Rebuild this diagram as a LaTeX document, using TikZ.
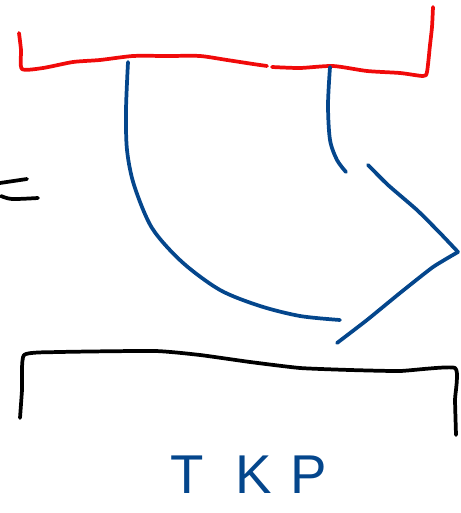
\documentclass[tikz,border=0pt]{standalone}
\usepackage{fontspec}
\setmainfont{Liberation Sans}
\definecolor{penblue}{RGB}{4,70,140}
\definecolor{penred}{RGB}{240,10,10}
\begin{document}
\begin{tikzpicture}[x=0.75pt,y=-0.75pt,
  pen/.style={line width=2.8pt,line cap=round,line join=round},
  redpen/.style={pen,draw=penred},
  bluepen/.style={pen,draw=penblue},
  blackpen/.style={pen,draw=black}]
\useasboundingbox (0,0) rectangle (460,513);
% red tray
\draw[redpen] plot[smooth,tension=0.4] coordinates {(19,33) (21,50) (22,69) (43,68) (73,62) (100,60) (133,56) (167,56) (200,56) (227,60) (253,64) (267,66)};
\draw[redpen] plot[smooth,tension=0.4] coordinates {(272,67) (300,68) (333,66) (367,71) (400,73) (423,76) (427,72) (430,45) (432,27) (433,7)};
% blue curves
\draw[bluepen] plot[smooth,tension=0.5] coordinates {(128,62) (126,110) (127,150) (134,185) (152,228) (182,262) (220,290) (260,306) (300,316) (340,320)};
\draw[bluepen] plot[smooth,tension=0.5] coordinates {(330,67) (328,105) (330,140) (337,160) (346,172)};
\draw[bluepen] plot[smooth,tension=0.3] coordinates {(368,165) (388,185) (417,210) (440,233) (458,252)};
\draw[bluepen] plot[smooth,tension=0.3] coordinates {(458,252) (433,267) (400,293) (367,320) (337,343)};
% black marks left
\draw[blackpen] (0,183) -- (27,179);
\draw[blackpen] plot[smooth,tension=0.5] coordinates {(1,196) (12,199) (38,198)};
% black bracket
\draw[blackpen] plot[smooth,tension=0.3] coordinates {(20,418) (22,390) (24,355) (60,352) (155,351) (200,355) (250,362) (300,368) (350,370) (400,371) (455,368) (455,400) (456,435)};
% label
\node[text=penblue,font=\fontsize{41}{43}\selectfont,anchor=center] (lbl) at (249,475) {T\hspace{24pt}K\hspace{14pt}P};
\end{tikzpicture}
\end{document}
